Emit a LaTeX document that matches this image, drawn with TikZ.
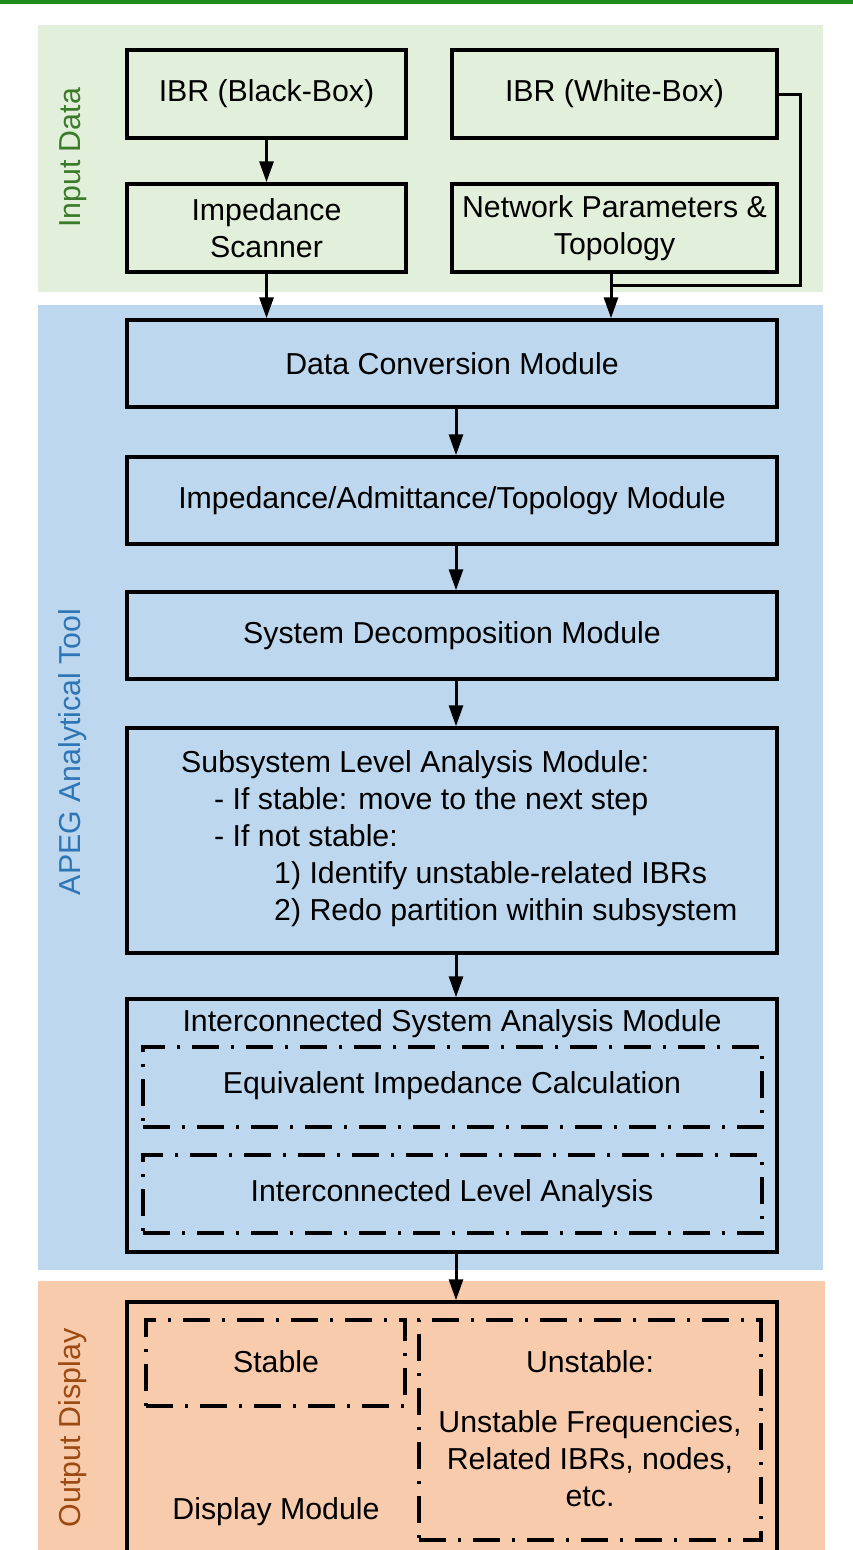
\documentclass[tikz,border=0pt]{standalone}
\usepackage{fontspec}
\setmainfont{Liberation Sans}
\usetikzlibrary{arrows.meta}
\definecolor{bandgreen}{HTML}{E2EFDA}
\definecolor{bandblue}{HTML}{BDD7EE}
\definecolor{bandorange}{HTML}{F8CBAD}
\definecolor{txtgreen}{HTML}{3A7A2A}
\definecolor{txtblue}{HTML}{2E75B6}
\definecolor{txtorange}{HTML}{9C4A12}
\definecolor{rulegreen}{HTML}{1E8A1E}
\tikzset{
  lbl/.style={inner sep=0pt, font={\fontsize{30.3}{37}\selectfont}},
  box/.style={draw=black, line width=3.5pt, inner sep=0pt, align=center,
              font={\fontsize{30.3}{37}\selectfont}},
  subbox/.style={draw=black, line width=3.2pt, inner sep=0pt,
              dash pattern=on 27pt off 12pt on 3pt off 12pt},
  band/.style={rotate=90, inner sep=0pt, font={\fontsize{30.3}{36}\selectfont}},
  arr/.style={line width=3pt, -{Triangle[length=21pt,width=14pt]}},
  wire/.style={line width=3pt}
}
\begin{document}
\begin{tikzpicture}[x=1pt,y=-1pt]
\useasboundingbox (0,0) rectangle (853,1550);
\clip (0,0) rectangle (853,1550);

% top rule and background bands
\fill[rulegreen] (0,0) rectangle (853,3.5);
\fill[bandgreen] (38,25) rectangle (823,292);
\fill[bandblue] (38,305) rectangle (823,1270);
\fill[bandorange] (38,1281) rectangle (825,1550);

\node[band, text=txtgreen] (tin) at (73,158) {Input Data};
\node[band, text=txtblue] (tapeg) at (73,752) {APEG Analytical Tool};
\node[band, text=txtorange] (tout) at (73,1428) {Output Display};

% input blocks
\node[box, minimum width=279pt, minimum height=88pt] (bb) at (266.5,94) {IBR (Black-Box)};
\node[box, minimum width=325pt, minimum height=88pt] (wb) at (614.5,94) {IBR (White-Box)};
\node[box, minimum width=279pt, minimum height=88pt] (sc) at (266.5,228) {Impedance\\Scanner};
\node[box, minimum width=325pt, minimum height=88pt] (np) at (614.5,228) {Network Parameters \&\\Topology};

% analytical tool blocks
\node[box, minimum width=650pt, minimum height=87pt] (dc) at (452,363.5) {Data Conversion Module};
\node[box, minimum width=650pt, minimum height=87pt] (ia) at (452,500.5) {Impedance/Admittance/Topology Module};
\node[box, minimum width=650pt, minimum height=87pt] (sd) at (452,635.5) {System Decomposition Module};
\node[box, minimum width=650pt, minimum height=225pt] (sl) at (452,840.5) {};
\node[lbl, anchor=west, align=left] (slt) at (181,839)
  {Subsystem Level Analysis Module:\\
   \hspace*{33pt}- If stable: move to the next step\\
   \hspace*{33pt}- If not stable:\\
   \hspace*{93pt}1) Identify unstable-related IBRs\\
   \hspace*{93pt}2) Redo partition within subsystem};

\node[box, minimum width=650pt, minimum height=253pt] (ic) at (452,1125.5) {};
\node[lbl] (ict) at (452,1024) {Interconnected System Analysis Module};
\node[subbox, minimum width=619pt, minimum height=80pt] (eq) at (452.5,1087) {};
\node[lbl] (eqt) at (452,1086) {Equivalent Impedance Calculation};
\node[subbox, minimum width=619pt, minimum height=78pt] (il) at (452.5,1194) {};
\node[lbl] (ilt) at (452,1194) {Interconnected Level Analysis};

% display blocks
\node[box, minimum width=650pt, minimum height=278pt] (dm) at (452,1441) {};
\node[subbox, minimum width=259pt, minimum height=86pt] (st) at (275.5,1363) {};
\node[lbl] (stt) at (276,1362) {Stable};
\node[subbox, minimum width=342pt, minimum height=220pt] (us) at (590,1430) {};
\node[lbl] (ust) at (590,1362) {Unstable:};
\node[lbl, align=center] (usd) at (590,1459) {Unstable Frequencies,\\Related IBRs, nodes,\\etc.};
\node[lbl] (dmt) at (276,1512) {Display Module};

% connectors
\coordinate (ax) at (456,0);
\coordinate (nx) at (611,0);
\coordinate (rx) at (800,0);
\coordinate (jy) at (0,285);
\draw[arr] (bb.south) -- (sc.north);
\draw[arr] (sc.south) -- (sc.south |- dc.north);
\draw[arr] (np.south -| nx) -- (dc.north -| nx);
\draw[wire] (wb.east) -- (wb.east -| rx) -- (rx |- jy) -- (nx |- jy);
\draw[arr] (dc.south -| ax) -- (ia.north -| ax);
\draw[arr] (ia.south -| ax) -- (sd.north -| ax);
\draw[arr] (sd.south -| ax) -- (sl.north -| ax);
\draw[arr] (sl.south -| ax) -- (ic.north -| ax);
\draw[arr] (ic.south -| ax) -- (dm.north -| ax);
\end{tikzpicture}
\end{document}
